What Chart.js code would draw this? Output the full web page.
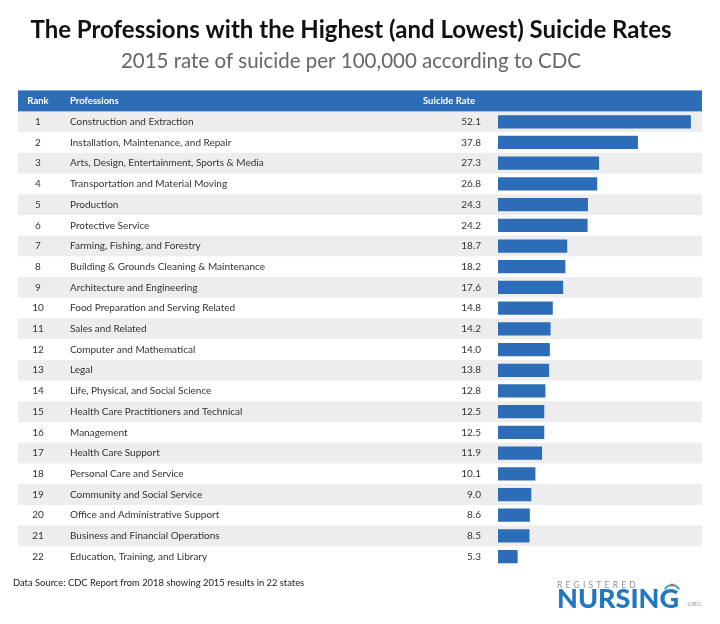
<!DOCTYPE html>
<html lang="en">
  <head>
    <meta charset="UTF-8">
    <title>The Professions with the Highest (and Lowest) Suicide Rates</title>
    <script src="https://cdn.jsdelivr.net/npm/chart.js@4.4.1/dist/chart.umd.min.js"></script>
    <style>
      html, body { margin: 0; padding: 0; background: #fff; }
      #wrap { width: 720px; height: 624px; }
    </style>
  </head>
  <body>
    <div id="wrap"><canvas id="chart"></canvas></div>
    <script type="text/javascript">
      const ranks = [1, 2, 3, 4, 5, 6, 7, 8, 9, 10, 11, 12, 13, 14, 15, 16, 17, 18, 19, 20, 21, 22]
      const professions = [
        'Construction and Extraction',
        'Installation, Maintenance, and Repair',
        'Arts, Design, Entertainment, Sports & Media',
        'Transportation and Material Moving',
        'Production',
        'Protective Service',
        'Farming, Fishing, and Forestry',
        'Building & Grounds Cleaning & Maintenance',
        'Architecture and Engineering',
        'Food Preparation and Serving Related',
        'Sales and Related',
        'Computer and Mathematical',
        'Legal',
        'Life, Physical, and Social Science',
        'Health Care Practitioners and Technical',
        'Management',
        'Health Care Support',
        'Personal Care and Service',
        'Community and Social Service',
        'Office and Administrative Support',
        'Business and Financial Operations',
        'Education, Training, and Library'
      ]
      const rates = [52.1, 37.8, 27.3, 26.8, 24.3, 24.2, 18.7, 18.2, 17.6, 14.8, 14.2,
                     14.0, 13.8, 12.8, 12.5, 12.5, 11.9, 10.1, 9.0, 8.6, 8.5, 5.3]
      const headers = ['Rank', 'Professions', 'Suicide Rate']
      const sourceNote = 'Data Source: CDC Report from 2018 showing 2015 results in 22 states'

      const BLUE = '#2d6db7'
      const FONT = 'Lato, "Open Sans", sans-serif'

      // table stripes, header row and the text columns around the bars
      const tablePlugin = {
        id: 'table',
        beforeDatasetsDraw(chart) {
          const { ctx, scales: { y } } = chart
          const left = 18, right = 702
          const band = y.getPixelForValue(1) - y.getPixelForValue(0)
          ctx.save()
          ranks.forEach((r, i) => {
            if (i % 2 === 0) {
              ctx.fillStyle = '#ededed'
              ctx.fillRect(left, y.getPixelForValue(i) - band / 2, right - left, band)
            }
          })
          ctx.fillStyle = BLUE
          ctx.fillRect(left, y.top - 21, right - left, 21)
          ctx.restore()
        },
        afterDatasetsDraw(chart) {
          const { ctx, scales: { y } } = chart
          ctx.save()
          ctx.textBaseline = 'middle'
          // header
          const hy = y.top - 10.5
          ctx.fillStyle = '#fff'
          ctx.font = 'bold 9.5px ' + FONT
          ctx.textAlign = 'center'
          ctx.fillText(headers[0], 38, hy)
          ctx.textAlign = 'left'
          ctx.fillText(headers[1], 70, hy)
          ctx.textAlign = 'right'
          ctx.fillText(headers[2], 475, hy)
          // rows
          ctx.fillStyle = '#333'
          ctx.font = '10px ' + FONT
          ranks.forEach((r, i) => {
            const py = y.getPixelForValue(i)
            ctx.textAlign = 'center'
            ctx.fillText(String(r), 38, py)
            ctx.textAlign = 'left'
            ctx.fillText(professions[i], 70, py)
            ctx.textAlign = 'right'
            ctx.fillText(rates[i].toFixed(1), 481, py)
          })
          // source note
          ctx.textAlign = 'left'
          ctx.fillStyle = '#222'
          ctx.font = '9.4px ' + FONT
          ctx.fillText(sourceNote, 13, 583)
          // logo
          ctx.textBaseline = 'alphabetic'
          ctx.fillStyle = '#8c9299'
          ctx.font = '8.5px ' + FONT
          ctx.letterSpacing = '3.2px'
          ctx.fillText('REGISTERED', 557, 588)
          ctx.letterSpacing = '0px'
          ctx.fillStyle = '#2278bf'
          ctx.font = '900 27px ' + FONT
          ctx.fillText('NURSING', 557, 608)
          ctx.fillStyle = '#9aa0a6'
          ctx.font = '6.5px ' + FONT
          ctx.fillText('.ORG', 686, 606)
          // little cap mark above the G
          ctx.strokeStyle = '#2a9fd0'
          ctx.lineWidth = 2
          ctx.beginPath()
          ctx.arc(672, 593, 8, Math.PI * 1.15, Math.PI * 1.85)
          ctx.stroke()
          ctx.fillStyle = '#d9534f'
          ctx.beginPath()
          ctx.arc(672, 585, 1.5, 0, Math.PI * 2)
          ctx.fill()
          ctx.restore()
        }
      }

      const ctx = document.getElementById('chart').getContext('2d')
      const chart = new Chart(ctx, {
        type: 'bar',
        data: {
          labels: professions,
          datasets: [
            {
              label: 'Suicide Rate',
              data: rates,
              backgroundColor: BLUE,
              borderWidth: 0,
              barPercentage: 0.64,
              categoryPercentage: 1
            }
          ]
        },
        options: {
          indexAxis: 'y',
          responsive: true,
          maintainAspectRatio: false,
          animation: false,
          layout: { padding: { left: 0, right: 18, top: 0, bottom: 57 } },
          scales: {
            x: {
              display: false,
              min: 0,
              max: 55.1
            },
            y: {
              display: true,
              ticks: { display: false },
              grid: { display: false },
              border: { display: false },
              afterFit(scale) { scale.width = 498 }
            }
          },
          plugins: {
            legend: { display: false },
            tooltip: { enabled: false },
            title: {
              display: true,
              text: 'The Professions with the Highest (and Lowest) Suicide Rates',
              color: '#111',
              font: { family: FONT, size: 24, weight: 'bold', lineHeight: 1.2 },
              padding: { top: 16, bottom: 2 }
            },
            subtitle: {
              display: true,
              text: '2015 rate of suicide per 100,000 according to CDC',
              color: '#666',
              font: { family: FONT, size: 20.5, weight: 'normal', lineHeight: 1.2 },
              padding: { top: 2, bottom: 38 }
            }
          }
        },
        plugins: [tablePlugin]
      })
    </script>
  </body>
</html>
